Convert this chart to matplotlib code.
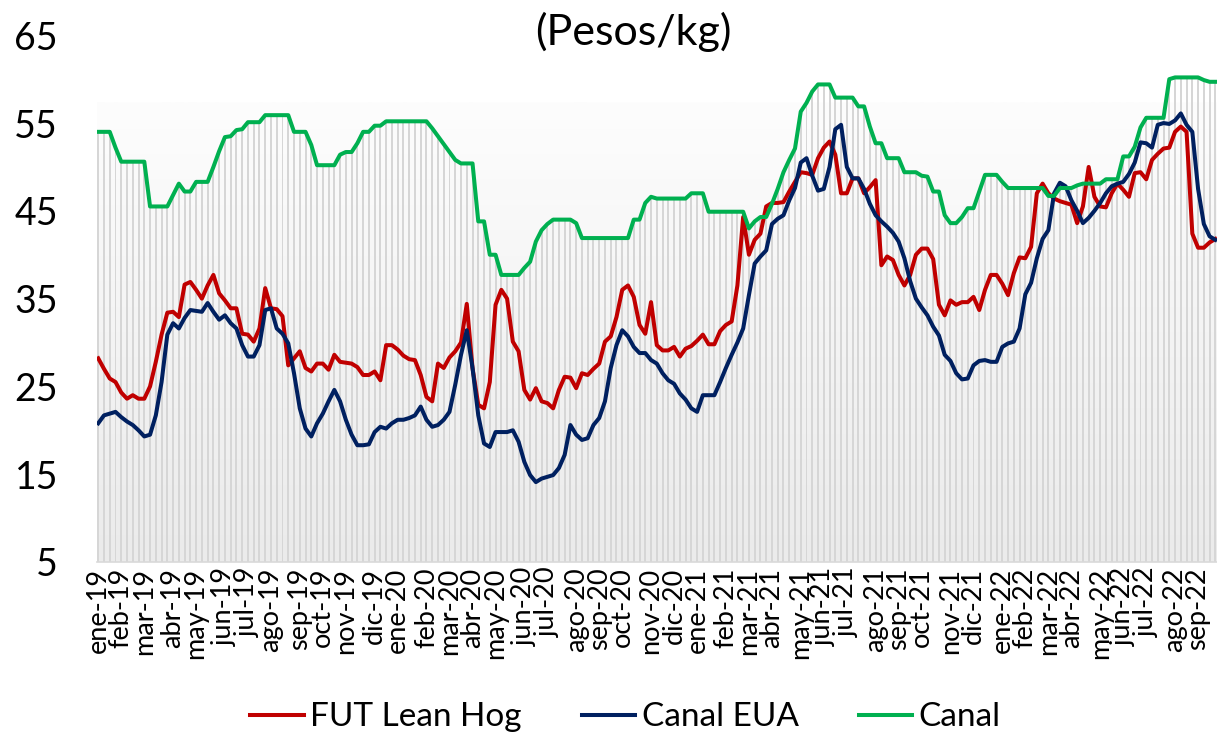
import numpy as np
import pandas as pd
import matplotlib
matplotlib.use("Agg")
import matplotlib.pyplot as plt
from matplotlib.colors import LinearSegmentedColormap

plt.rcParams['font.family'] = ['Lato', 'DejaVu Sans']

# Weekly data, ene-19 .. sep-22 (pesos/kg)
fut_lean_hog = [
    28.2, 27.0, 25.9, 25.5, 24.3, 23.6, 24.0, 23.6, 23.6, 25.0,
    27.8, 30.9, 33.4, 33.5, 32.9, 36.6, 36.9, 36.0, 35.0, 36.5,
    37.7, 35.6, 34.8, 33.9, 33.9, 31.0, 30.9, 30.1, 31.6, 36.2,
    33.9, 33.8, 33.0, 27.4, 28.2, 29.0, 27.1, 26.7, 27.6, 27.6,
    26.9, 28.6, 27.8, 27.7, 27.6, 27.2, 26.3, 26.3, 26.7, 25.7,
    29.7, 29.7, 29.2, 28.5, 28.1, 28.0, 26.3, 23.8, 23.3, 27.6,
    27.1, 28.3, 29.0, 30.0, 34.4, 27.1, 22.9, 22.5, 25.5, 34.3,
    36.0, 35.0, 30.1, 29.0, 24.6, 23.5, 24.8, 23.3, 23.1, 22.5,
    24.6, 26.1, 26.0, 24.8, 26.5, 26.3, 27.0, 27.6, 30.1, 30.7,
    32.9, 36.0, 36.5, 35.2, 32.0, 31.0, 34.6, 29.7, 29.1, 29.1,
    29.5, 28.4, 29.3, 29.6, 30.2, 30.9, 29.8, 29.8, 31.3, 32.0,
    32.4, 36.5, 44.3, 40.0, 41.7, 42.4, 45.5, 45.9, 45.9, 46.0,
    47.2, 48.3, 49.4, 49.3, 49.1, 51.0, 52.2, 52.9, 51.4, 47.0,
    47.0, 48.7, 48.7, 47.0, 47.7, 48.5, 38.8, 39.8, 39.4, 37.7,
    36.5, 37.7, 40.0, 40.7, 40.7, 39.5, 34.3, 33.1, 34.8, 34.3,
    34.6, 34.6, 35.2, 33.7, 36.0, 37.7, 37.7, 36.7, 35.4, 37.9,
    39.7, 39.6, 40.9, 47.0, 48.1, 47.0, 46.4, 46.1, 45.9, 45.7,
    43.6, 45.5, 50.0, 46.6, 45.5, 45.4, 47.0, 48.1, 47.4, 46.6,
    49.3, 49.4, 48.6, 50.8, 51.5, 52.1, 52.2, 54.0, 54.6, 54.0,
    42.4, 40.8, 40.8, 41.4, 41.8,
]

canal_eua = [
    20.8, 21.7, 21.9, 22.1, 21.5, 21.0, 20.6, 20.0, 19.3, 19.5,
    21.7, 25.5, 30.9, 32.2, 31.6, 32.8, 33.7, 33.6, 33.5, 34.5,
    33.5, 32.6, 33.1, 32.2, 31.6, 29.7, 28.4, 28.4, 29.7, 33.7,
    33.9, 31.6, 31.0, 29.9, 26.5, 22.5, 20.2, 19.3, 20.8, 21.9,
    23.3, 24.6, 23.3, 21.2, 19.5, 18.3, 18.3, 18.4, 19.8, 20.4,
    20.2, 20.8, 21.2, 21.2, 21.4, 21.7, 22.7, 21.2, 20.4, 20.6,
    21.2, 22.1, 25.2, 28.6, 31.4, 27.1, 21.7, 18.5, 18.1, 19.8,
    19.8, 19.8, 20.0, 18.7, 16.4, 14.9, 14.1, 14.5, 14.7, 14.9,
    15.7, 17.2, 20.6, 19.5, 18.9, 19.1, 20.6, 21.4, 23.3, 27.1,
    29.7, 31.4, 30.7, 29.5, 28.8, 28.8, 28.0, 27.6, 26.5, 25.7,
    25.3, 24.2, 23.5, 22.5, 22.1, 24.0, 24.0, 24.0, 25.5, 27.1,
    28.6, 30.0, 31.6, 35.4, 39.0, 39.8, 40.5, 43.5, 44.1, 44.5,
    46.2, 47.6, 50.5, 51.0, 49.0, 47.3, 47.5, 50.0, 54.3, 54.8,
    50.0, 48.7, 48.7, 47.5, 45.8, 44.5, 43.8, 43.2, 42.5, 41.5,
    39.6, 37.0, 35.0, 34.0, 33.1, 31.8, 30.8, 28.6, 27.9, 26.5,
    25.8, 25.9, 27.4, 27.9, 28.0, 27.8, 27.8, 29.5, 29.9, 30.1,
    31.6, 35.5, 36.8, 39.6, 41.8, 42.8, 47.0, 48.2, 47.8, 46.2,
    45.0, 43.6, 44.2, 45.0, 45.9, 47.0, 47.8, 48.1, 48.3, 49.2,
    50.5, 52.8, 52.7, 52.2, 54.8, 55.0, 54.9, 55.3, 56.1, 54.8,
    54.0, 47.5, 43.5, 42.1, 41.7,
]

canal = [
    54.0, 54.0, 54.0, 52.2, 50.6, 50.6, 50.6, 50.6, 50.6, 45.5,
    45.5, 45.5, 45.5, 46.8, 48.1, 47.2, 47.2, 48.3, 48.3, 48.3,
    50.0, 51.8, 53.4, 53.5, 54.2, 54.3, 55.1, 55.1, 55.1, 55.9,
    55.9, 55.9, 55.9, 55.9, 54.0, 54.0, 54.0, 52.5, 50.2, 50.2,
    50.2, 50.2, 51.4, 51.7, 51.7, 52.7, 54.0, 54.0, 54.7, 54.7,
    55.2, 55.2, 55.2, 55.2, 55.2, 55.2, 55.2, 55.2, 54.4, 53.5,
    52.6, 51.7, 50.8, 50.4, 50.4, 50.4, 43.8, 43.8, 40.0, 40.0,
    37.7, 37.7, 37.7, 37.7, 38.5, 39.2, 41.5, 42.8, 43.5, 44.0,
    44.0, 44.0, 44.0, 43.6, 41.9, 41.9, 41.9, 41.9, 41.9, 41.9,
    41.9, 41.9, 41.9, 44.0, 44.0, 45.9, 46.6, 46.4, 46.4, 46.4,
    46.4, 46.4, 46.4, 47.0, 47.0, 47.0, 44.9, 44.9, 44.9, 44.9,
    44.9, 44.9, 44.9, 43.0, 43.8, 44.3, 44.3, 45.8, 47.5, 49.4,
    50.8, 52.1, 56.3, 57.3, 58.6, 59.4, 59.4, 59.4, 57.9, 57.9,
    57.9, 57.9, 56.9, 56.9, 54.6, 52.7, 52.7, 51.0, 51.0, 51.0,
    49.4, 49.4, 49.4, 49.0, 48.9, 47.2, 47.2, 44.5, 43.6, 43.6,
    44.3, 45.3, 45.3, 47.2, 49.1, 49.1, 49.1, 48.3, 47.6, 47.6,
    47.6, 47.6, 47.6, 47.6, 47.6, 46.7, 46.7, 47.6, 47.6, 47.6,
    47.9, 48.1, 48.1, 48.1, 48.1, 48.6, 48.6, 48.6, 51.2, 51.2,
    52.3, 54.5, 55.6, 55.6, 55.6, 55.6, 60.0, 60.2, 60.2, 60.2,
    60.2, 60.2, 59.9, 59.7, 59.7,
]

meses = ['ene', 'feb', 'mar', 'abr', 'may', 'jun',
         'jul', 'ago', 'sep', 'oct', 'nov', 'dic']

fechas = pd.date_range('2019-01-04', periods=len(canal), freq='W-FRI')
df = pd.DataFrame({'fut': fut_lean_hog, 'eua': canal_eua, 'canal': canal}, index=fechas)

# first week of every month gets a label
primeras = df.groupby([df.index.year, df.index.month]).head(1).index
etiquetas = [f"{meses[d.month - 1]}-{d.strftime('%y')}" for d in primeras]

fig = plt.figure(figsize=(12.17, 7.35), dpi=100)
ax = fig.add_axes([0.0797, 0.2354, 0.9203, 0.7166])

x0 = fechas[0] - pd.Timedelta(days=1.5)
x1 = fechas[-1] + pd.Timedelta(days=2)
ax.set_xlim(x0, x1)
ax.set_ylim(5, 65)

# soft gray gradient behind the columns
grad = LinearSegmentedColormap.from_list('g', ['#ebebeb', '#fdfdfd'])
ax.imshow(np.linspace(0, 1, 256).reshape(-1, 1), cmap=grad, aspect='auto',
          origin='lower', extent=[matplotlib.dates.date2num(x0), matplotlib.dates.date2num(x1), 5, 57.3],
          zorder=0)

ax.bar(df.index, df['canal'] - 5, bottom=5, width=2.4, color='#d6d6d6', zorder=1, linewidth=0)

ax.plot(df.index, df['fut'], color='#C00000', lw=2.9, label='FUT Lean Hog', zorder=3)
ax.plot(df.index, df['eua'], color='#002060', lw=2.9, label='Canal EUA', zorder=3)
ax.plot(df.index, df['canal'], color='#00B050', lw=2.9, label='Canal', zorder=4)

ax.set_yticks(range(5, 66, 10))
ax.tick_params(axis='y', length=0, labelsize=27, pad=28)
ax.set_xticks(primeras)
ax.set_xticklabels(etiquetas, rotation=90, fontsize=19.5)
ax.tick_params(axis='x', length=0, pad=4)

for s in ['left', 'right', 'top']:
    ax.spines[s].set_visible(False)
ax.spines['bottom'].set_color('#d9d9d9')
ax.spines['bottom'].set_linewidth(1.2)

fig.text(0.52, 0.957, '(Pesos/kg)', ha='center', va='center', fontsize=31)

fig.legend(loc='center', bbox_to_anchor=(0.514, 0.024), ncol=3, frameon=False,
           fontsize=24, handlelength=1.6, handletextpad=0.2, columnspacing=1.8)

fig.savefig('out.png', dpi=100)
